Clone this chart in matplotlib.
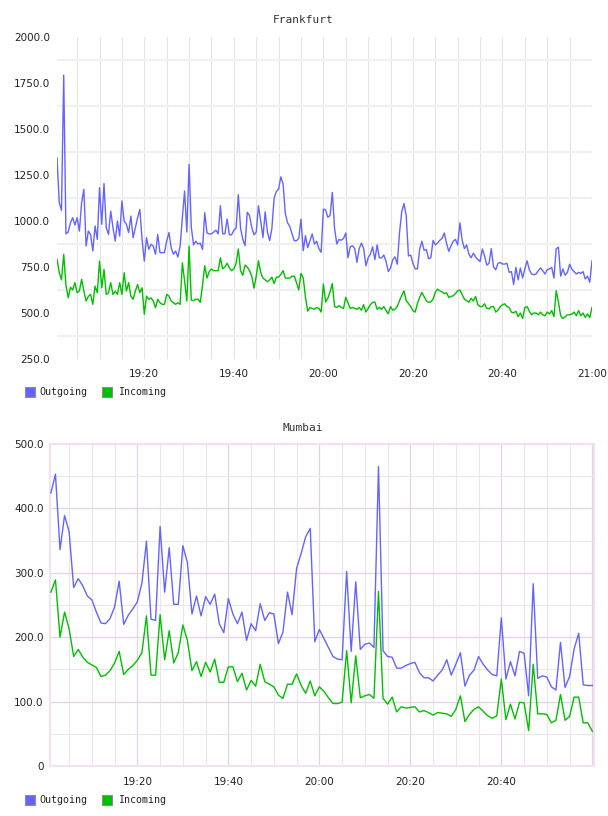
import matplotlib
matplotlib.use('Agg')
import matplotlib.pyplot as plt
import matplotlib.dates as mdates
import pandas as pd
from matplotlib.patches import Rectangle
from matplotlib.ticker import MultipleLocator, FuncFormatter

# ---------------- data ----------------
fra_time = pd.date_range('2024-01-01 19:00:30', periods=240, freq='30s')
mum_time = pd.date_range('2024-01-01 19:01:00', periods=120, freq='60s')

fra_outgoing = [
    1344, 1100, 1058, 1793, 930, 940, 990, 1018, 978, 1018,
    945, 1100, 1172, 864, 945, 927, 837, 973, 900, 1181,
    982, 1203, 964, 927, 1054, 964, 891, 1000, 918, 1109,
    1000, 982, 937, 1027, 909, 964, 1018, 1063, 900, 782,
    909, 846, 873, 864, 819, 927, 828, 828, 828, 891,
    937, 855, 819, 837, 804, 864, 1018, 1163, 940, 1308,
    966, 870, 890, 875, 880, 845, 1045, 935, 930, 930,
    940, 950, 930, 1083, 930, 930, 1011, 925, 925, 950,
    960, 1143, 960, 900, 866, 1047, 1030, 965, 925, 940,
    1083, 1000, 910, 1050, 940, 893, 960, 1125, 1160, 1174,
    1240, 1201, 1040, 990, 970, 930, 893, 893, 905, 1010,
    839, 920, 855, 893, 930, 875, 890, 850, 830, 1065,
    1060, 1020, 1030, 1155, 960, 875, 900, 895, 905, 935,
    800, 860, 865, 850, 775, 850, 880, 850, 757, 800,
    820, 860, 790, 870, 800, 800, 815, 780, 725, 745,
    790, 805, 765, 935, 1050, 1095, 1030, 810, 815, 770,
    740, 740, 845, 890, 840, 845, 795, 800, 895, 870,
    880, 895, 905, 935, 880, 835, 865, 890, 900, 870,
    990, 895, 850, 870, 820, 800, 825, 805, 790, 780,
    848, 810, 760, 770, 850, 750, 735, 770, 775, 766,
    766, 770, 721, 725, 655, 748, 680, 745, 690, 740,
    784, 735, 712, 708, 712, 730, 745, 730, 712, 735,
    740, 748, 690, 850, 857, 700, 740, 705, 720, 765,
    739, 725, 712, 721, 715, 725, 685, 700, 667, 784,
]
fra_incoming = [
    792, 720, 680, 819, 650, 583, 640, 625, 665, 610,
    620, 683, 619, 565, 590, 601, 547, 646, 610, 782,
    637, 737, 601, 610, 665, 601, 619, 601, 665, 601,
    719, 619, 665, 592, 574, 619, 655, 610, 637, 493,
    592, 574, 583, 565, 529, 574, 556, 547, 547, 601,
    592, 565, 556, 547, 556, 547, 773, 674, 565, 864,
    570, 567, 575, 575, 558, 650, 757, 690, 725, 739,
    730, 730, 730, 800, 740, 750, 770, 745, 730, 740,
    770, 848, 730, 705, 760, 750, 730, 700, 635, 700,
    784, 720, 690, 680, 670, 680, 695, 660, 695, 695,
    710, 730, 690, 690, 690, 700, 700, 665, 625, 715,
    690, 585, 510, 530, 525, 520, 530, 525, 505, 658,
    560, 580, 615, 660, 535, 530, 540, 530, 525, 585,
    555, 525, 530, 525, 520, 530, 515, 545, 505, 525,
    545, 558, 560, 520, 531, 520, 535, 513, 496, 535,
    515, 520, 535, 567, 595, 620, 567, 552, 535, 513,
    505, 550, 585, 612, 590, 567, 558, 560, 575, 612,
    630, 621, 615, 605, 610, 585, 590, 594, 605, 621,
    625, 600, 575, 567, 558, 580, 565, 590, 545, 535,
    535, 550, 525, 522, 535, 535, 505, 515, 535, 545,
    550, 535, 530, 505, 500, 510, 480, 500, 470, 530,
    535, 510, 490, 500, 500, 490, 505, 490, 485, 505,
    495, 513, 480, 621, 560, 485, 470, 480, 490, 490,
    494, 505, 485, 513, 485, 500, 476, 495, 475, 530,
]

mum_outgoing = [
    424, 453, 336, 389, 364, 277, 291, 280, 264, 258,
    239, 222, 221, 229, 247, 287, 220, 234, 244, 255,
    284, 349, 228, 226, 372, 270, 339, 251, 251, 342,
    316, 236, 264, 233, 263, 251, 267, 221, 207, 260,
    236, 221, 239, 195, 221, 210, 252, 226, 238, 236,
    190, 208, 270, 235, 307, 330, 356, 369, 193, 212,
    198, 184, 170, 166, 165, 302, 178, 286, 181, 189,
    191, 184, 465, 179, 170, 169, 152, 152, 156, 159,
    161, 145, 137, 137, 132, 141, 149, 165, 141, 158,
    176, 124, 141, 149, 170, 158, 149, 142, 140, 230,
    135, 162, 140, 178, 175, 109, 283, 136, 140, 138,
    123, 118, 192, 122, 139, 182, 206, 126, 125, 125,
]
mum_incoming = [
    270, 289, 200, 239, 213, 170, 181, 169, 161, 157,
    153, 139, 141, 148, 160, 178, 142, 150, 156, 164,
    176, 233, 141, 141, 235, 165, 210, 160, 176, 219,
    195, 148, 162, 139, 161, 146, 166, 130, 130, 154,
    154, 131, 144, 118, 133, 124, 158, 131, 127, 123,
    110, 105, 127, 127, 143, 125, 113, 132, 109, 123,
    116, 106, 97, 97, 99, 179, 98, 171, 106, 109,
    111, 105, 271, 105, 96, 107, 84, 92, 90, 91,
    92, 84, 86, 83, 79, 83, 82, 81, 77, 88,
    109, 69, 80, 88, 92, 85, 78, 74, 78, 135,
    72, 96, 73, 99, 98, 55, 158, 81, 81, 80,
    67, 71, 111, 71, 77, 107, 107, 67, 67, 54,
]

series_names = ['Outgoing', 'Incoming']

# ---------------- style ----------------
C_OUT = '#6464ff'
C_IN = '#00c000'
W, H = 608, 816

fig = plt.figure(figsize=(W / 100, H / 100), dpi=100)
fig.patch.set_facecolor('white')


def fr(x0, y_top, x1, y_bot):
    return [x0 / W, 1 - y_bot / H, (x1 - x0) / W, (y_bot - y_top) / H]


mono = ['DejaVu Sans Mono']

# ---------------- Frankfurt ----------------
ax1 = fig.add_axes(fr(57, 37, 592, 359))
ax1.plot(fra_time, fra_outgoing, color=C_OUT, lw=1.0, zorder=3)
ax1.plot(fra_time, fra_incoming, color=C_IN, lw=1.0, zorder=3)
ax1.set_xlim(pd.Timestamp('2024-01-01 19:00:30'), pd.Timestamp('2024-01-01 21:00:00'))
ax1.set_ylim(250, 2000)
ax1.yaxis.set_major_locator(MultipleLocator(250))
ax1.yaxis.set_minor_locator(MultipleLocator(125))
ax1.yaxis.set_major_formatter(FuncFormatter(lambda v, p: f'{v:.1f}'))
ax1.xaxis.set_major_locator(mdates.MinuteLocator(byminute=[0, 20, 40]))
ax1.xaxis.set_minor_locator(mdates.MinuteLocator(byminute=range(0, 60, 5)))
ax1.xaxis.set_major_formatter(mdates.DateFormatter('%H:%M'))
for s in ax1.spines.values():
    s.set_visible(False)
ax1.grid(False)
ax1.grid(axis='x', which='both', color='#e4e4e4', lw=0.8, zorder=0)
ax1.grid(axis='y', which='minor', color='#f0f0f0', lw=1.6, zorder=0)
ax1.tick_params(axis='both', which='both', length=0)
ax1.tick_params(axis='y', pad=5)
ax1.tick_params(axis='x', pad=7)
for lab in ax1.get_xticklabels() + ax1.get_yticklabels():
    lab.set_fontfamily('DejaVu Sans')
    lab.set_fontsize(7.5)
    lab.set_color('#222222')
ax1.set_axisbelow(True)

# ---------------- Mumbai ----------------
ax2 = fig.add_axes(fr(50, 444, 594, 766))
ax2.plot(mum_time, mum_outgoing, color=C_OUT, lw=1.0, zorder=3)
ax2.plot(mum_time, mum_incoming, color=C_IN, lw=1.0, zorder=3)
ax2.set_xlim(pd.Timestamp('2024-01-01 19:00:48'), pd.Timestamp('2024-01-01 21:00:22'))
ax2.set_ylim(0, 500)
ax2.yaxis.set_major_locator(MultipleLocator(100))
ax2.yaxis.set_minor_locator(MultipleLocator(50))
ax2.yaxis.set_major_formatter(FuncFormatter(lambda v, p: '0' if v == 0 else f'{v:.1f}'))
ax2.xaxis.set_major_locator(mdates.MinuteLocator(byminute=[0, 20, 40]))
ax2.xaxis.set_minor_locator(mdates.MinuteLocator(byminute=range(0, 60, 5)))
ax2.xaxis.set_major_formatter(mdates.DateFormatter('%H:%M'))
for s in ax2.spines.values():
    s.set_color('#efe3f1')
    s.set_linewidth(1.5)
ax2.grid(False)
ax2.grid(which='minor', color='#e8e8e8', lw=0.8, zorder=0)
ax2.grid(which='major', color='#e3d2e6', lw=0.9, zorder=1)
ax2.tick_params(axis='both', which='both', length=0)
ax2.tick_params(axis='y', pad=4.5)
ax2.tick_params(axis='x', pad=8)
for lab in ax2.get_xticklabels() + ax2.get_yticklabels():
    lab.set_fontfamily('DejaVu Sans')
    lab.set_fontsize(7.5)
    lab.set_color('#222222')
fig.canvas.draw()
for lab in ax2.get_xticklabels():
    if lab.get_text() == '21:00':
        lab.set_visible(False)
ax2.set_axisbelow(True)

# ---------------- titles ----------------
fig.text(303 / W, 1 - 20 / H, 'Frankfurt', ha='center', va='center',
         family=mono, fontsize=8, color='#333333')
fig.text(303 / W, 1 - 428 / H, 'Mumbai', ha='center', va='center',
         family=mono, fontsize=8, color='#333333')

# ---------------- legends ----------------
def legend(y_center):
    items = [(25, 39, C_OUT, series_names[0]), (102, 118, C_IN, series_names[1])]
    for px, tx, col, name in items:
        fig.add_artist(Rectangle((px / W, 1 - (y_center + 5) / H), 10 / W, 10 / H,
                                 transform=fig.transFigure, facecolor=col,
                                 edgecolor='#8c8c8c', lw=0.8))
        fig.text(tx / W, 1 - y_center / H, name, ha='left', va='center',
                 family=mono, fontsize=7.2, color='#222222')


legend(392)
legend(800)

fig.savefig('out.png', dpi=100, facecolor='white')
